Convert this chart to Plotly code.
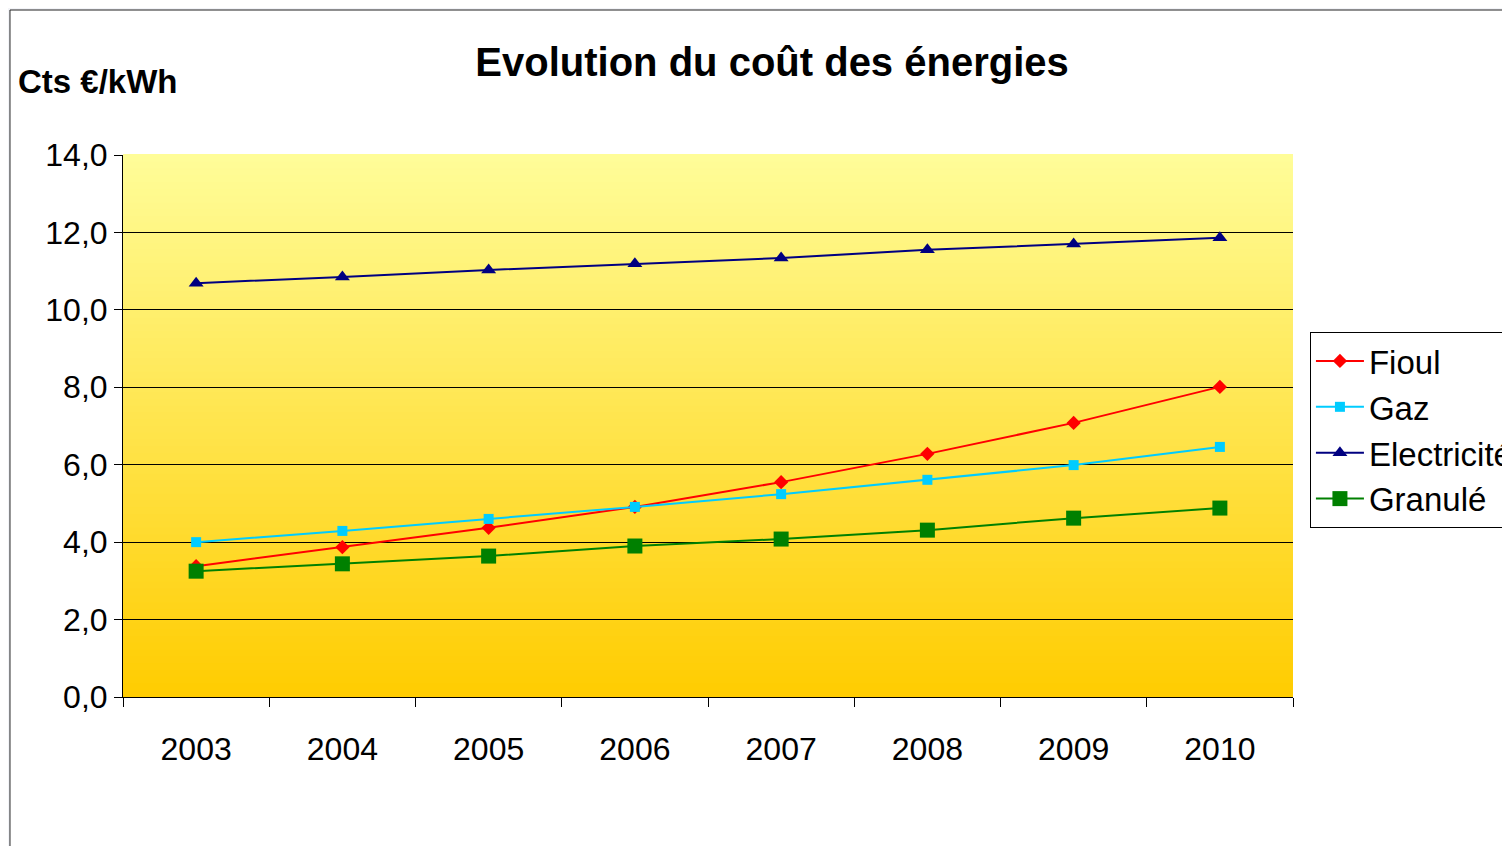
import plotly.graph_objects as go

years = ["2003", "2004", "2005", "2006", "2007", "2008", "2009", "2010"]
fioul = [3.38, 3.87, 4.37, 4.91, 5.55, 6.28, 7.08, 8.01]
gaz = [4.00, 4.29, 4.60, 4.91, 5.24, 5.61, 5.99, 6.46]
electricite = [10.69, 10.85, 11.03, 11.19, 11.34, 11.55, 11.70, 11.86]
granule = [3.25, 3.44, 3.64, 3.90, 4.08, 4.31, 4.62, 4.88]

FONT = "Liberation Sans, Arial, sans-serif"

fig = go.Figure()
fig.add_trace(go.Scatter(x=years, y=fioul, name="Fioul", mode="lines+markers",
                         line=dict(color="#FF0000", width=2),
                         marker=dict(symbol="diamond", size=11, color="#FF0000")))
fig.add_trace(go.Scatter(x=years, y=gaz, name="Gaz", mode="lines+markers",
                         line=dict(color="#00CCFF", width=2),
                         marker=dict(symbol="square", size=10, color="#00CCFF")))
fig.add_trace(go.Scatter(x=years, y=electricite, name="Electricité", mode="lines+markers",
                         line=dict(color="#000080", width=2),
                         marker=dict(symbol="triangle-up", size=13, color="#000080")))
fig.add_trace(go.Scatter(x=years, y=granule, name="Granulé", mode="lines+markers",
                         line=dict(color="#008000", width=2),
                         marker=dict(symbol="square", size=15, color="#008000")))

shapes = []
# outer frame
shapes.append(dict(type="rect", xref="paper", yref="paper", x0=-0.0966, x1=1.4,
                   y0=-0.4, y1=1.2675, line=dict(color="#222222", width=1),
                   fillcolor="white", layer="below"))
# vertical gradient background of the plot area
n = 80
top = (255, 253, 153)
bot = (255, 204, 0)
for i in range(n):
    t = (i + 0.5) / n
    c = tuple(round(bot[k] + (top[k] - bot[k]) * t) for k in range(3))
    shapes.append(dict(type="rect", xref="x domain", yref="y domain",
                       x0=0, x1=1, y0=i / n, y1=(i + 1) / n + 0.002,
                       line=dict(width=0), fillcolor="rgb(%d,%d,%d)" % c,
                       layer="below"))

fig.update_layout(
    width=1502, height=838,
    margin=dict(l=115, r=217, t=147, b=149),
    paper_bgcolor="#F3F4F8",
    plot_bgcolor="rgba(0,0,0,0)",
    separators=", ",
    font=dict(family=FONT, color="black", size=32),
    title=dict(text="<b>Evolution du coût des énergies</b>", xref="container", yref="container",
               x=0.5087, xanchor="center", y=0.9355, yanchor="middle",
               font=dict(size=40, family=FONT, color="black")),
    shapes=shapes,
    annotations=[dict(text="<b>Cts €/kWh</b>", xref="paper", yref="paper",
                      x=-0.0915, xanchor="left", y=1.135, yanchor="middle",
                      showarrow=False, font=dict(size=33, family=FONT, color="black"))],
    showlegend=True,
    legend=dict(xref="container", yref="container", x=0.8668, xanchor="left",
                y=0.6134, yanchor="top",
                bgcolor="white", bordercolor="black", borderwidth=1,
                font=dict(size=33, family=FONT, color="black"),
                itemwidth=48, tracegroupgap=0),
    xaxis=dict(type="category", range=[-0.5, 7.5], showgrid=False,
               showline=True, linecolor="black", linewidth=1,
               ticks="outside", tickson="boundaries", ticklen=9, tickcolor="black",
               ticklabelstandoff=24, tickfont=dict(size=32, family=FONT, color="black")),
    yaxis=dict(range=[0, 14], dtick=2, tickformat=".1f", showgrid=True,
               gridcolor="black", gridwidth=1, zeroline=False,
               showline=True, linecolor="black", linewidth=1,
               ticks="outside", ticklen=8, tickcolor="black",
               tickfont=dict(size=32, family=FONT, color="black")),
)

fig.write_html("out.html")
